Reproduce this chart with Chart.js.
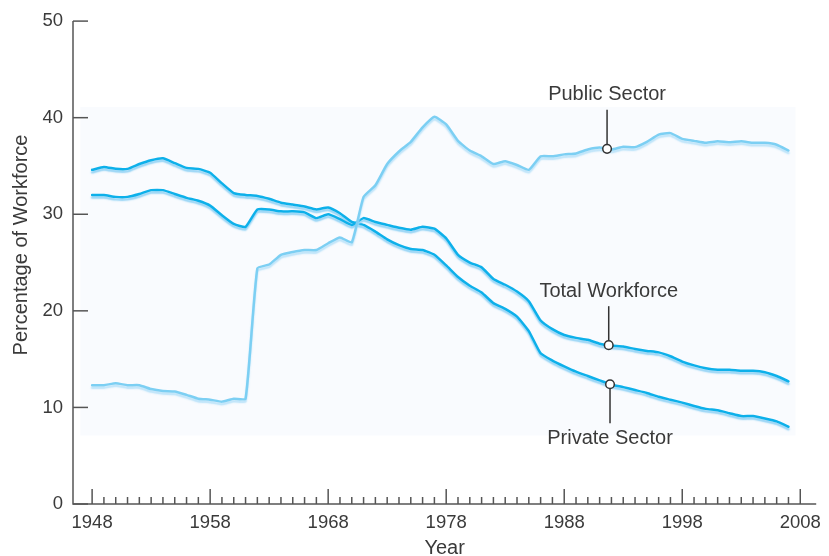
<!DOCTYPE html>
<html>
<head>
<meta charset="utf-8">
<title>Union membership by sector</title>
<script src="https://cdn.jsdelivr.net/npm/chart.js@4.4.0/dist/chart.umd.min.js"></script>
<style>
  html, body { margin: 0; padding: 0; background: #fff; }
  #chart { display: block; }
</style>
</head>
<body>
<canvas id="chart" width="829" height="556"></canvas>
<script>
(function () {
  'use strict';

  // Data (percent of workforce)
  var years = [
    1948, 1949, 1950, 1951, 1952, 1953, 1954, 1955, 1956, 1957,
    1958, 1959, 1960, 1961, 1962, 1963, 1964, 1965, 1966, 1967,
    1968, 1969, 1970, 1971, 1972, 1973, 1974, 1975, 1976, 1977,
    1978, 1979, 1980, 1981, 1982, 1983, 1984, 1985, 1986, 1987,
    1988, 1989, 1990, 1991, 1992, 1993, 1994, 1995, 1996, 1997,
    1998, 1999, 2000, 2001, 2002, 2003, 2004, 2005, 2006, 2007
  ];

  var totalWorkforce = [
    32.0, 32.0, 31.8, 31.8, 32.1, 32.5, 32.5, 32.1, 31.7, 31.4,
    30.9, 29.9, 29.0, 28.7, 30.5, 30.5, 30.3, 30.3, 30.2, 29.6,
    30.0, 29.5, 28.9, 29.6, 29.2, 28.9, 28.6, 28.4, 28.7, 28.5,
    27.5, 25.8, 25.0, 24.5, 23.3, 22.7, 22.0, 21.0, 19.0, 18.1,
    17.5, 17.2, 17.0, 16.6, 16.4, 16.3, 16.05, 15.85, 15.7, 15.3,
    14.75, 14.35, 14.05, 13.9, 13.9, 13.8, 13.8, 13.65, 13.25, 12.7
  ];

  var privateSector = [
    34.6, 34.9, 34.7, 34.7, 35.2, 35.6, 35.8, 35.3, 34.8, 34.7,
    34.3, 33.2, 32.2, 32.0, 31.9, 31.6, 31.2, 31.0, 30.8, 30.5,
    30.7, 30.1, 29.2, 28.9, 28.2, 27.4, 26.8, 26.4, 26.3, 25.8,
    24.7, 23.5, 22.6, 21.9, 20.8, 20.2, 19.4, 17.9, 15.6, 14.85,
    14.25, 13.7, 13.25, 12.8, 12.35, 12.1, 11.8, 11.5, 11.1, 10.8,
    10.5, 10.15, 9.85, 9.7, 9.4, 9.1, 9.1, 8.85, 8.55, 8.0
  ];

  var publicSector = [
    12.3, 12.3, 12.5, 12.3, 12.3, 11.9, 11.7, 11.65, 11.3, 10.9,
    10.8, 10.6, 10.9, 10.9, 24.4, 24.8, 25.8, 26.1, 26.3, 26.3,
    27.0, 27.6, 27.1, 31.8, 33.0, 35.2, 36.5, 37.5, 39.0, 40.1,
    39.3, 37.6, 36.6, 36.0, 35.2, 35.5, 35.1, 34.6, 36.0, 36.0,
    36.2, 36.3, 36.7, 36.9, 36.7, 37.0, 36.95, 37.5, 38.25, 38.4,
    37.8, 37.6, 37.4, 37.55, 37.45, 37.55, 37.4, 37.4, 37.2, 36.6
  ];

  var yTickValues = [0, 10, 20, 30, 40, 50];
  var xTickYears = [
    1948, 1949, 1950, 1951, 1952, 1953, 1954, 1955, 1956, 1957,
    1958, 1959, 1960, 1961, 1962, 1963, 1964, 1965, 1966, 1967,
    1968, 1969, 1970, 1971, 1972, 1973, 1974, 1975, 1976, 1977,
    1978, 1979, 1980, 1981, 1982, 1983, 1984, 1985, 1986, 1987,
    1988, 1989, 1990, 1991, 1992, 1993, 1994, 1995, 1996, 1997,
    1998, 1999, 2000, 2001, 2002, 2003, 2004, 2005, 2006, 2007, 2008
  ];
  var xLabelYears = [1948, 1958, 1968, 1978, 1988, 1998, 2008];

  var callouts = [
    {text: 'Public Sector', series: publicSector, year: 1991.63, side: 'above'},
    {text: 'Total Workforce', series: totalWorkforce, year: 1991.77, side: 'above'},
    {text: 'Private Sector', series: privateSector, year: 1991.88, side: 'below'}
  ];

  var FONT = "'Liberation Sans', Arial, Helvetica, sans-serif";
  var TEXT_COLOR = '#3a3a3a';
  var AXIS_COLOR = '#555555';

  function toPoints(series) {
    return years.map(function (yr, i) {
      return {x: yr, y: series[i]};
    });
  }

  // Linear interpolation along a series, for the callout markers
  function valueAt(series, year) {
    var i = 0;
    while (i < years.length - 2 && years[i + 1] <= year) {
      i++;
    }
    var t = (year - years[i]) / (years[i + 1] - years[i]);
    return series[i] + (series[i + 1] - series[i]) * t;
  }

  /**
   * Faint panel behind the lines.
   */
  var panelPlugin = {
    id: 'panel',
    beforeDatasetsDraw: function (chart) {
      var xs = chart.scales.x, ys = chart.scales.y, ctx = chart.ctx;
      var left = xs.getPixelForValue(1947.0);
      var right = xs.getPixelForValue(2007.6);
      var top = ys.getPixelForValue(41.1);
      var bottom = ys.getPixelForValue(7.1);
      ctx.save();
      ctx.fillStyle = '#f9fbfe';
      ctx.fillRect(left, top, right - left, bottom - top);
      ctx.restore();
    }
  };

  /**
   * Soft light-blue band under every line.
   */
  var glowPlugin = {
    id: 'glow',
    beforeDatasetDraw: function (chart, args) {
      var ds = chart.data.datasets[args.index];
      var ctx = chart.ctx;
      ctx.save();
      ctx.shadowColor = ds.glowColor;
      ctx.shadowOffsetX = 0;
      ctx.shadowOffsetY = 2.5;
      ctx.shadowBlur = 1.5;
    },
    afterDatasetDraw: function (chart) {
      chart.ctx.restore();
    }
  };

  /**
   * Axis lines with inward ticks, plus the rotated y title.
   */
  var axesPlugin = {
    id: 'axes',
    afterDraw: function (chart) {
      var xs = chart.scales.x, ys = chart.scales.y, ctx = chart.ctx;
      var area = chart.chartArea;
      ctx.save();
      ctx.strokeStyle = AXIS_COLOR;
      ctx.lineWidth = 1.5;
      ctx.lineCap = 'butt';

      ctx.beginPath();
      ctx.moveTo(area.left, ys.getPixelForValue(50));
      ctx.lineTo(area.left, area.bottom);
      ctx.lineTo(area.right, area.bottom);
      ctx.stroke();

      // y ticks point into the plot
      ys.ticks.forEach(function (t) {
        var py = ys.getPixelForValue(t.value);
        ctx.beginPath();
        ctx.moveTo(area.left, py);
        ctx.lineTo(area.left + 15, py);
        ctx.stroke();
      });

      // x ticks: long at decades, short every year
      xs.ticks.forEach(function (t) {
        var px = xs.getPixelForValue(t.value);
        var len = xLabelYears.indexOf(t.value) >= 0 ? 15 : 7;
        ctx.beginPath();
        ctx.moveTo(px, area.bottom);
        ctx.lineTo(px, area.bottom - len);
        ctx.stroke();
      });

      ctx.fillStyle = TEXT_COLOR;
      ctx.font = '20px ' + FONT;
      ctx.textAlign = 'center';
      ctx.textBaseline = 'middle';
      ctx.translate(21, 245);
      ctx.rotate(-Math.PI / 2);
      ctx.fillText('Percentage of Workforce', 0, 0);
      ctx.restore();
    }
  };

  /**
   * Labels with leader lines and open circles.
   */
  var calloutPlugin = {
    id: 'callouts',
    afterDatasetsDraw: function (chart) {
      var xs = chart.scales.x, ys = chart.scales.y, ctx = chart.ctx;
      ctx.save();
      callouts.forEach(function (c) {
        var x = xs.getPixelForValue(c.year);
        var y = ys.getPixelForValue(valueAt(c.series, c.year));
        var dir = c.side === 'above' ? -1 : 1;
        ctx.strokeStyle = '#333333';
        ctx.lineWidth = 1.5;
        ctx.beginPath();
        ctx.moveTo(x, y + dir * 4.5);
        ctx.lineTo(x, y + dir * 39);
        ctx.stroke();

        ctx.beginPath();
        ctx.arc(x, y, 4.3, 0, Math.PI * 2);
        ctx.fillStyle = '#ffffff';
        ctx.fill();
        ctx.stroke();

        ctx.fillStyle = TEXT_COLOR;
        ctx.font = '20px ' + FONT;
        ctx.textAlign = 'center';
        ctx.textBaseline = 'middle';
        ctx.fillText(c.text, x, y + dir * 54);
      });
      ctx.restore();
    }
  };

  var ctx = document.getElementById('chart').getContext('2d');

  new Chart(ctx, {
    type: 'line',
    data: {
      datasets: [
        {
          label: 'Public Sector',
          data: toPoints(publicSector),
          borderColor: '#7ccff3',
          glowColor: 'rgba(175, 222, 248, 0.85)'
        },
        {
          label: 'Total Workforce',
          data: toPoints(totalWorkforce),
          borderColor: '#0db0ea',
          glowColor: 'rgba(120, 200, 242, 0.8)'
        },
        {
          label: 'Private Sector',
          data: toPoints(privateSector),
          borderColor: '#0db0ea',
          glowColor: 'rgba(120, 200, 242, 0.8)'
        }
      ]
    },
    options: {
      responsive: false,
      animation: false,
      devicePixelRatio: 1,
      layout: {
        padding: {top: 19, right: 7, left: 0, bottom: 0}
      },
      plugins: {
        legend: {display: false},
        tooltip: {enabled: false}
      },
      elements: {
        point: {radius: 0, hoverRadius: 0},
        line: {
          borderWidth: 2.5,
          tension: 0.15,
          borderJoinStyle: 'round',
          borderCapStyle: 'round',
          fill: false
        }
      },
      scales: {
        x: {
          type: 'linear',
          min: 1946.38,
          max: 2009.35,
          afterBuildTicks: function (scale) {
            scale.ticks = xTickYears.map(function (v) { return {value: v}; });
          },
          afterFit: function (scale) {
            scale.height = 52;
          },
          grid: {display: false, drawTicks: false},
          border: {display: false},
          ticks: {
            autoSkip: false,
            maxRotation: 0,
            padding: 8,
            color: TEXT_COLOR,
            font: {family: FONT, size: 18.5},
            callback: function (v) {
              return xLabelYears.indexOf(v) >= 0 ? String(v) : '';
            }
          },
          title: {
            display: true,
            text: 'Year',
            color: TEXT_COLOR,
            padding: 0,
            font: {family: FONT, size: 20, lineHeight: 0.8}
          }
        },
        y: {
          min: 0,
          max: 50,
          afterBuildTicks: function (scale) {
            scale.ticks = yTickValues.map(function (v) { return {value: v}; });
          },
          afterFit: function (scale) {
            scale.width = 73;
          },
          grid: {display: false, drawTicks: false},
          border: {display: false},
          ticks: {
            padding: 10,
            color: TEXT_COLOR,
            font: {family: FONT, size: 18.5}
          }
        }
      }
    },
    plugins: [panelPlugin, glowPlugin, axesPlugin, calloutPlugin]
  });
})();
</script>
</body>
</html>
